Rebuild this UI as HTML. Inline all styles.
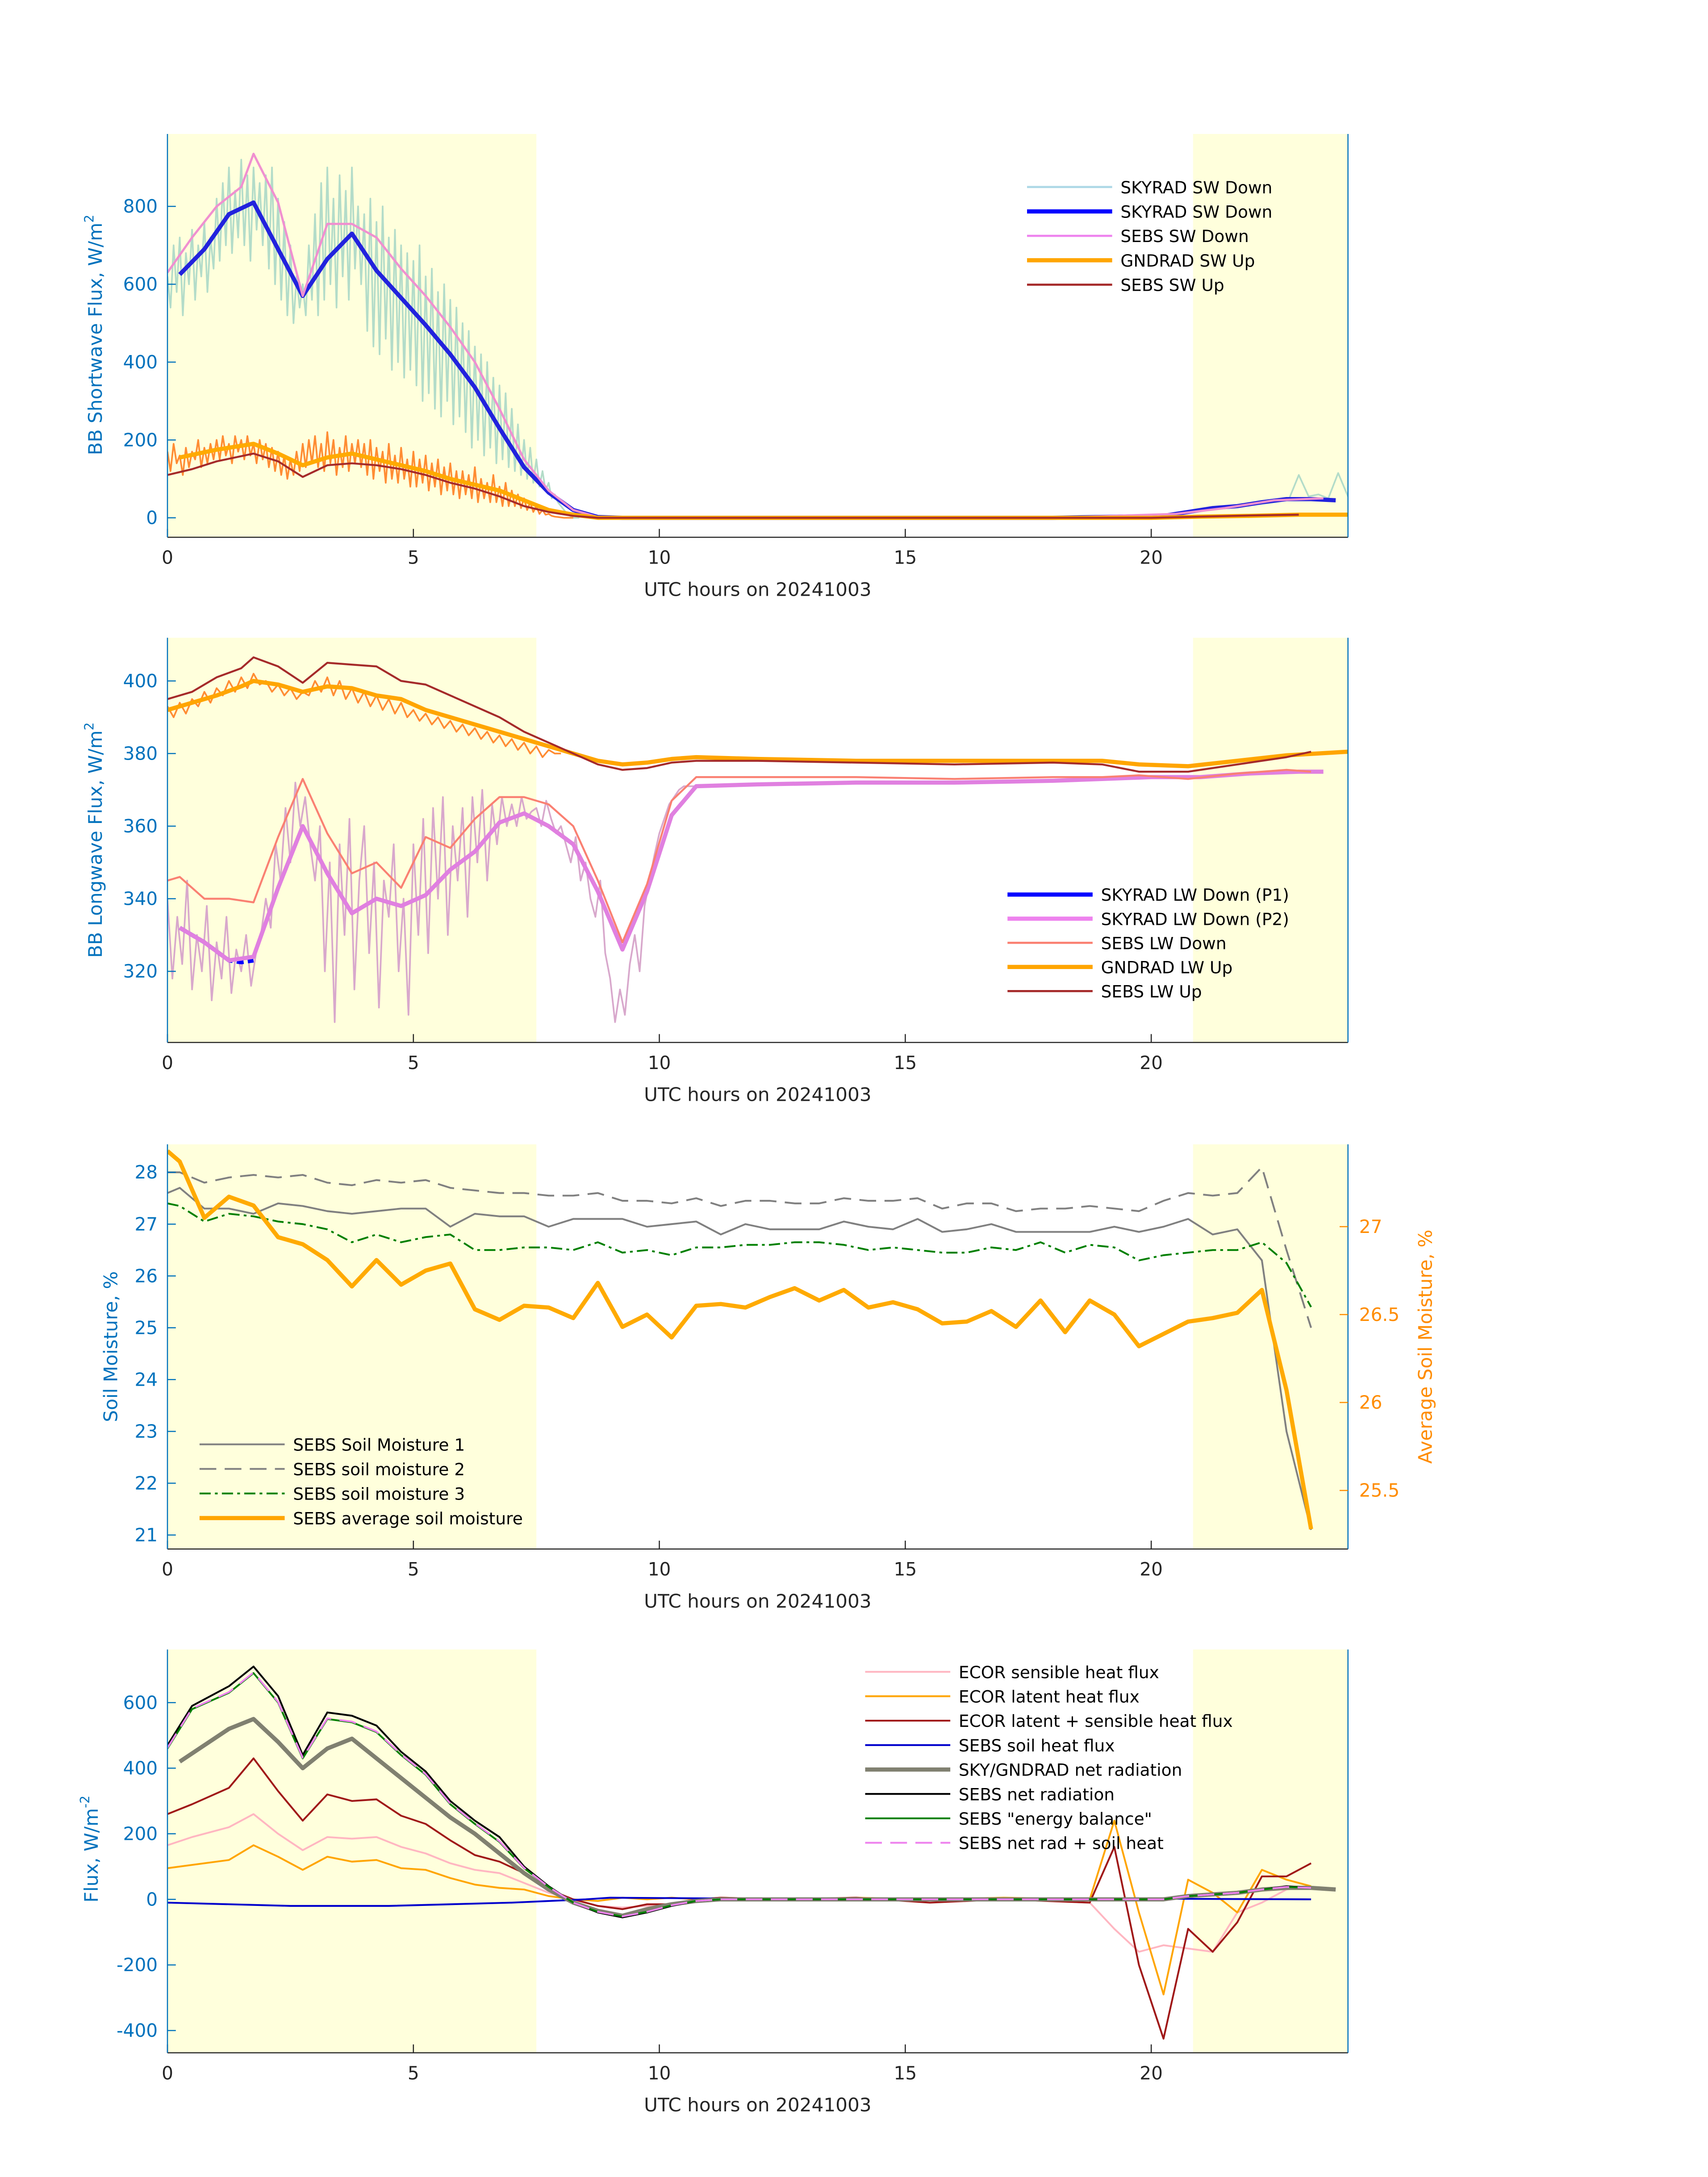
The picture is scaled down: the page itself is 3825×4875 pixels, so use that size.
<!DOCTYPE html>
<html><head><meta charset="utf-8">
<style>
html,body{margin:0;padding:0;background:#fff;}
svg{display:block;font-family:"DejaVu Sans","Liberation Sans",sans-serif;}
</style></head>
<body>
<svg id="fig" width="3825" height="4875" viewBox="0 0 1224 1560" xmlns="http://www.w3.org/2000/svg"></svg>
<script>
// ---------- DATA ----------
// Panel 1 (shortwave)
const swSkyHrs=[0.25,0.75,1.25,1.75,2.25,2.75,3.25,3.75,4.25,4.75,5.25,5.75,6.25,6.75,7.25,7.75,8.25,8.75,9.25,12,15,18,20.25,20.75,21.25,21.75,22.25,22.75,23.25,23.75];
const swSkyVals=[625,690,780,810,690,570,665,730,635,565,495,420,335,230,130,65,20,2,0,0,0,0,5,15,25,30,40,48,48,45];
const swSebsDownHrs=[0,0.5,1,1.5,1.75,2.25,2.75,3.25,3.75,4.25,4.75,5.25,5.75,6.25,6.75,7.25,7.75,8.25,8.75,9.25,12,15,18,20.5,21.5,22.5,23.5];
const swSebsDownVals=[630,720,800,850,935,810,570,755,755,720,640,570,490,400,280,150,70,20,2,0,0,0,0,10,25,45,50];
const swGndHrs=[0.25,1,1.75,2.25,2.75,3.25,3.75,4.25,4.75,5.25,5.75,6.25,6.75,7.25,7.75,8.25,8.75,12,16,20,21,22,23,24];
const swGndVals=[155,175,190,165,135,155,165,150,135,120,100,85,70,45,20,8,0,0,0,0,3,5,8,8];
const swSebsUpHrs=[0,0.5,1,1.75,2.25,2.75,3.25,3.75,4.25,4.75,5.25,5.75,6.25,6.75,7.25,7.75,8.25,8.75,12,16,20,21,22,23];
const swSebsUpVals=[110,125,145,165,145,105,135,140,135,125,110,90,75,55,30,15,5,0,0,0,0,3,6,8];
const swRawStep=0.0625;
const swRawVals=[620,540,700,580,720,520,680,600,740,560,700,620,760,580,720,640,
820,660,860,700,900,680,840,720,920,700,880,660,900,740,860,700,
880,640,900,600,820,560,760,520,700,500,620,540,600,520,700,560,
780,520,860,560,900,600,820,540,880,620,840,560,900,640,800,600,
780,480,820,440,760,420,800,460,720,380,740,400,700,360,680,380,
660,340,700,300,620,320,640,280,580,260,600,300,560,240,540,260,
500,220,480,180,440,200,420,160,400,180,360,140,340,150,320,130,
280,120,240,110,200,100,180,90,150,80,120,70,90,50,60,40,30,20,10,5,0,0,0];
const swRawLateStart=21, swRawLateStep=0.2;
const swRawLateVals=[20,22,25,28,30,32,35,38,42,48,110,55,60,50,115,55,45,70];
const swGndRawVals=[170,120,190,140,160,110,180,130,170,150,200,130,180,140,190,150,
200,150,210,160,190,140,210,170,200,150,210,160,190,140,200,150,
190,130,180,120,170,110,160,100,150,110,170,120,190,130,200,140,
210,130,190,120,220,140,200,110,180,130,210,120,190,140,200,130,
190,110,200,100,180,120,170,90,190,100,160,90,180,100,150,80,
170,80,150,90,160,70,140,80,150,60,130,70,140,60,120,50,
120,60,110,50,130,40,100,50,90,40,110,40,80,30,90,30,
70,30,60,25,50,20,40,15,30,10,20,8,10,5,3,2,1,0,0,0,0];
// Panel 2 (longwave)
const lwSebsUpHrs=[0,0.5,1,1.5,1.75,2.25,2.75,3.25,3.75,4.25,4.75,5.25,5.75,6.25,6.75,7.25,7.75,8.25,8.75,9.25,9.75,10.25,10.75,12,14,16,18,19,19.75,20.75,21.75,22.75,23.25];
const lwSebsUpVals=[395,397,401,403.5,406.5,404,399.5,405,404.5,404,400,399,396,393,390,386,383,380,377,375.5,376,377.5,378,378,377.5,377,377.5,377,375,375,377,379,380.5];
const lwGndHrs=[0,0.5,1,1.5,1.75,2.25,2.75,3.25,3.75,4.25,4.75,5.25,5.75,6.25,6.75,7.25,7.75,8.25,8.75,9.25,9.75,10.25,10.75,12,14,16,18,19,19.75,20.75,21.75,22.75,24];
const lwGndVals=[392,394,396,398.5,400,399,397,398.5,398,396,395,392,390,388,386,384,382,380,378,377,377.5,378.5,379,378.5,378,378,378,378,377,376.5,378,379.5,380.5];
const lwGndRawStep=0.125;
const lwGndRawVals=[393,390,394,391,395,393,397,394,398,396,400,397,401,398,402,399,400,397,399,396,398,395,397,396,400,397,401,396,400,395,398,394,397,393,396,392,395,391,394,390,392,389,391,388,390,387,389,386,388,385,387,384,386,383,385,382,384,381,383,380,382,379,381,380,380];
const lwSebsDownHrs=[0,0.25,0.75,1.25,1.75,2.25,2.75,3.25,3.75,4.25,4.75,5.25,5.75,6.25,6.75,7.25,7.75,8.25,8.75,9.25,9.75,10.25,10.75,12,14,16,18,19,19.75,20.75,21.75,22.75,23.25];
const lwSebsDownVals=[345,346,340,340,339,357,373,358,347,350,343,357,354,362,368,368,366,360,345,328,344,367,373.5,373.5,373.5,373,373.5,373.5,374,373,374.5,375.5,375];
const lwP2Hrs=[0.25,0.75,1.25,1.75,2.25,2.75,3.25,3.75,4.25,4.75,5.25,5.75,6.25,6.75,7.25,7.75,8.25,8.75,9.25,9.75,10.25,10.75,12,14,16,18,19,20,21,22,23,23.5];
const lwP2Vals=[332,328,323,324,343,360,347,336,340,338,341,348,353,361,363.5,360,355,342,326,342,363,371,371.5,372,372,372.5,373,373.5,373.5,374.5,375,375];
const lwP1Hrs=[0.25,0.75,1.25,1.5,1.75];
const lwP1Vals=[332,328,323,322.5,323];
const lwRawStep=0.1;
const lwRawVals=[340,318,335,322,345,315,330,320,338,312,
328,318,335,314,326,320,330,316,325,330,
340,332,355,345,365,350,372,360,368,355,
345,360,320,350,306,355,330,362,315,345,
360,325,350,310,345,335,355,320,340,308,
355,330,362,325,365,340,368,330,360,345,
365,335,368,350,370,345,366,355,368,360,
366,360,368,362,364,365,360,367,362,358,
360,355,350,357,345,350,340,335,345,325,
318,306,315,308,322,330,320,338,345,352,
358,362,366,368,370,371,371,371,371,371];
// Panel 3 (soil moisture)
const smHrs=[0,0.25,0.75,1.25,1.75,2.25,2.75,3.25,3.75,4.25,4.75,5.25,5.75,6.25,6.75,7.25,7.75,8.25,8.75,9.25,9.75,10.25,10.75,11.25,11.75,12.25,12.75,13.25,13.75,14.25,14.75,15.25,15.75,16.25,16.75,17.25,17.75,18.25,18.75,19.25,19.75,20.25,20.75,21.25,21.75,22.25,22.75,23.25];
const sm1Vals=[27.6,27.7,27.3,27.3,27.2,27.4,27.35,27.25,27.2,27.25,27.3,27.3,26.95,27.2,27.15,27.15,26.95,27.1,27.1,27.1,26.95,27.0,27.05,26.8,27.0,26.9,26.9,26.9,27.05,26.95,26.9,27.1,26.85,26.9,27.0,26.85,26.85,26.85,26.85,26.95,26.85,26.95,27.1,26.8,26.9,26.3,23.0,21.1];
const sm2Vals=[28.0,28.0,27.8,27.9,27.95,27.9,27.95,27.8,27.75,27.85,27.8,27.85,27.7,27.65,27.6,27.6,27.55,27.55,27.6,27.45,27.45,27.4,27.5,27.35,27.45,27.45,27.4,27.4,27.5,27.45,27.45,27.5,27.3,27.4,27.4,27.25,27.3,27.3,27.35,27.3,27.25,27.45,27.6,27.55,27.6,28.1,26.5,25.0];
const sm3Vals=[27.4,27.35,27.05,27.2,27.15,27.05,27.0,26.9,26.65,26.8,26.65,26.75,26.8,26.5,26.5,26.55,26.55,26.5,26.65,26.45,26.5,26.4,26.55,26.55,26.6,26.6,26.65,26.65,26.6,26.5,26.55,26.5,26.45,26.45,26.55,26.5,26.65,26.45,26.6,26.55,26.3,26.4,26.45,26.5,26.5,26.65,26.25,25.4];
const smAvgVals=[27.43,27.37,27.05,27.17,27.12,26.94,26.9,26.81,26.66,26.81,26.67,26.75,26.79,26.53,26.47,26.55,26.54,26.48,26.68,26.43,26.5,26.37,26.55,26.56,26.54,26.6,26.65,26.58,26.64,26.54,26.57,26.53,26.45,26.46,26.52,26.43,26.58,26.4,26.58,26.5,26.32,26.39,26.46,26.48,26.51,26.64,26.07,25.28];
// Panel 4 (energy fluxes)
const fxHrs=[0,0.5,1.25,1.75,2.25,2.75,3.25,3.75,4.25,4.75,5.25,5.75,6.25,6.75,7.25,7.75,8.25,8.75,9.25,9.75,10.25,10.75,11.25,12.5,14,15.5,17,18.75,19.25,19.75,20.25,20.75,21.25,21.75,22.25,22.75,23.25];
const netRadVals=[470,590,650,710,620,440,570,560,530,450,390,300,240,190,100,40,-10,-40,-55,-40,-20,-5,0,0,0,0,0,0,0,0,0,10,15,20,30,40,35];
const ebVals=[460,580,630,690,600,430,550,540,510,440,380,290,230,175,95,38,-10,-38,-52,-38,-18,-5,0,0,0,0,0,0,0,0,0,10,15,20,30,38,35];
const nrSoilVals=[462,582,632,692,602,432,552,542,512,442,382,292,232,177,96,38,-10,-38,-52,-38,-18,-5,0,0,0,0,0,0,0,0,0,10,15,20,30,38,35];
const sensVals=[165,190,220,260,200,150,190,185,190,160,140,110,90,80,50,20,0,-20,-25,-20,-15,0,0,0,0,0,0,-10,-90,-160,-140,-150,-160,-40,-10,30,40];
const latVals=[95,105,120,165,130,90,130,115,120,95,90,65,45,35,30,10,0,-5,5,0,5,0,5,0,5,0,5,0,240,-40,-290,60,20,-40,90,60,40];
const combVals=[260,290,340,430,330,240,320,300,305,255,230,180,135,115,80,30,0,-20,-30,-15,-15,0,5,0,5,-10,0,-10,160,-200,-425,-90,-160,-70,70,70,110];
const skyNetHrs=[0.25,0.75,1.25,1.75,2.25,2.75,3.25,3.75,4.25,4.75,5.25,5.75,6.25,6.75,7.25,7.75,8.25,8.75,9.25,9.75,10.25,10.75,11.25,14,17,20.25,20.75,21.25,21.75,22.25,22.75,23.25,23.75];
const skyNetVals=[420,470,520,550,480,400,460,490,430,370,310,250,200,140,80,30,-10,-35,-50,-30,-15,-5,0,0,0,0,10,15,20,30,35,35,30];
const soilHeatHrs=[0,2.5,4.5,7,8.5,9,12,16,20,23.25];
const soilHeatVals=[-10,-20,-20,-10,0,5,2,2,2,0];
const xTicks=[0,5,10,15,20];

// ---------- DRAWING ----------
const NS="http://www.w3.org/2000/svg";
const svg=document.getElementById('fig');
const X0=120,X1=966;
function xs(h){return X0+(X1-X0)*h/24;}
function mk(tag,attrs,parent){const e=document.createElementNS(NS,tag);for(const k in attrs)e.setAttribute(k,attrs[k]);(parent||svg).appendChild(e);return e;}
function txt(s,attrs,parent){const e=mk('text',attrs,parent);e.textContent=s;return e;}
function pathD(hrs,vals,ys){return hrs.map((h,i)=>(i?'L':'M')+xs(h).toFixed(2)+' '+ys(vals[i]).toFixed(2)).join(' ');}
function stepHrs(start,step,n){const a=[];for(let i=0;i<n;i++)a.push(start+i*step);return a;}

function makePanel(id,top,bot,vmin,vmax){
  const g=mk('g',{});
  
  
  const ys=v=>bot-(v-vmin)/(vmax-vmin)*(bot-top);
  const cp=mk('clipPath',{id:'clip-'+id},g);
  mk('rect',{x:X0,y:top,width:X1-X0,height:bot-top},cp);
  const s1=mk('rect',{x:X0,y:top,width:xs(7.5)-X0,height:bot-top,fill:'#ffffdc'},g);
  
  
  const s2=mk('rect',{x:xs(20.85),y:top,width:X1-xs(20.85),height:bot-top,fill:'#ffffdc'},g);
  
  
  const plot=mk('g',{'clip-path':'url(#clip-'+id+')'},g);
  
  
  const ax=mk('g',{},g);
  
  
  mk('line',{x1:X0,y1:bot,x2:X1,y2:bot,stroke:'#262626','stroke-width':0.8},ax);
  xTicks.forEach(t=>{
    mk('line',{x1:xs(t),y1:bot,x2:xs(t),y2:bot-6,stroke:'#262626','stroke-width':0.8},ax);
    const l=txt(String(t),{x:xs(t),y:bot+19,'font-size':13,fill:'#262626','text-anchor':'middle'},ax);
    
    
  });
  const xt=txt('UTC hours on 20241003',{x:543,y:bot+42,'font-size':13.5,fill:'#262626','text-anchor':'middle'},ax);
  
  
  mk('line',{x1:X0,y1:top,x2:X0,y2:bot,stroke:'#0072BD','stroke-width':0.8},g);
  mk('line',{x1:X1,y1:top,x2:X1,y2:bot,stroke:'#0072BD','stroke-width':0.8},g);
  return {g,plot,ys,top,bot};
}
function yTicks(p,ticks,fmt,color,right,ysF){
  const ys=ysF||p.ys;
  const ag=mk('g',{},p.g);
  
  
  ticks.forEach(t=>{
    const y=ys(t);
    if(right){mk('line',{x1:X1,y1:y,x2:X1-6,y2:y,stroke:color,'stroke-width':0.8},ag);
      const l=txt(fmt(t),{x:X1+8,y:y+4.5,'font-size':13,fill:color},ag);
      
      }
    else{mk('line',{x1:X0,y1:y,x2:X0+6,y2:y,stroke:color,'stroke-width':0.8},ag);
      const l=txt(fmt(t),{x:X0-7,y:y+4.5,'font-size':13,fill:color,'text-anchor':'end'},ag);
      
      }
  });
}
function yTitle(p,x,yc,content,color,name){
  const t=mk('text',{x:0,y:0,transform:`translate(${x},${yc}) rotate(-90)`,'font-size':13.5,fill:color,'text-anchor':'middle'},p.g);
  t.innerHTML=content;
  
  
}
function line(p,hrs,vals,color,w,name,dash,ysF){
  const e=mk('path',{d:pathD(hrs,vals,ysF||p.ys),fill:'none',stroke:color,'stroke-width':w,'stroke-linejoin':'round'},p.plot);
  if(dash)e.setAttribute('stroke-dasharray',dash);
  
  
  return e;
}
function legend(p,x,y0,dy,items){
  const lg=mk('g',{},p.g);
  
  
  items.forEach((it,i)=>{
    const y=y0+i*dy;
    const row=mk('g',{},lg);
    
    
    const l=mk('line',{x1:x,y1:y,x2:x+61,y2:y,stroke:it[1],'stroke-width':it[2]},row);
    if(it[3])l.setAttribute('stroke-dasharray',it[3]);
    txt(it[0],{x:x+67,y:y+4.5,'font-size':12,fill:'#000'},row);
  });
}

// Panel 1
const p1=makePanel('shortwave',96,385,-50,986);
yTicks(p1,[0,200,400,600,800],String,'#0072BD');
yTitle(p1,73,240,'BB Shortwave Flux, W/m<tspan font-size="9" dy="-6">2</tspan>','#0072BD','y-axis-title');
line(p1,stepHrs(0,swRawStep,swRawVals.length),swRawVals,'#b3dcc9',1.2,'skyrad-sw-down-raw');
line(p1,stepHrs(swRawLateStart,swRawLateStep,swRawLateVals.length),swRawLateVals,'#b3dcc9',1.2,'skyrad-sw-down-raw-late');
line(p1,stepHrs(0,swRawStep,swGndRawVals.length),swGndRawVals,'#ff8c33',1.2,'gndrad-sw-up-raw');
line(p1,swSkyHrs,swSkyVals,'#2222dd',3,'skyrad-sw-down');
line(p1,swSebsDownHrs,swSebsDownVals,'#f090d0',1.6,'sebs-sw-down');
line(p1,swGndHrs,swGndVals,'#ffaa00',3,'gndrad-sw-up');
line(p1,swSebsUpHrs,swSebsUpVals,'#a52a2a',1.4,'sebs-sw-up');
legend(p1,736,134,17.5,[['SKYRAD SW Down','#add8e6',1.5],['SKYRAD SW Down','#0000ff',3],['SEBS SW Down','#ee82ee',1.5],['GNDRAD SW Up','#ffa500',3],['SEBS SW Up','#a52a2a',1.5]]);

// Panel 2
const p2=makePanel('longwave',457,747,300.4,411.9);
yTicks(p2,[320,340,360,380,400],String,'#0072BD');
yTitle(p2,73,602,'BB Longwave Flux, W/m<tspan font-size="9" dy="-6">2</tspan>','#0072BD','y-axis-title');
line(p2,stepHrs(0,lwRawStep,lwRawVals.length),lwRawVals,'#d8a8cc',1.2,'skyrad-lw-down-raw');
line(p2,stepHrs(0,lwGndRawStep,lwGndRawVals.length),lwGndRawVals,'#ff8c33',1.2,'gndrad-lw-up-raw');
line(p2,lwP1Hrs,lwP1Vals,'#0000ff',3,'skyrad-lw-down-p1','5 3');
line(p2,lwP2Hrs,lwP2Vals,'#e080e0',3,'skyrad-lw-down-p2');
line(p2,lwSebsDownHrs,lwSebsDownVals,'#fa8072',1.4,'sebs-lw-down');
line(p2,lwGndHrs,lwGndVals,'#ffa500',3,'gndrad-lw-up');
line(p2,lwSebsUpHrs,lwSebsUpVals,'#a52a2a',1.4,'sebs-lw-up');
legend(p2,722,641,17.3,[['SKYRAD LW Down (P1)','#0000ff',3],['SKYRAD LW Down (P2)','#ee82ee',3],['SEBS LW Down','#fa8072',1.5],['GNDRAD LW Up','#ffa500',3],['SEBS LW Up','#a52a2a',1.5]]);

// Panel 3
const p3=makePanel('soil-moisture',820,1110,20.73,28.54);
const ysR=v=>1110-(v-25.167)/(27.468-25.167)*290;
yTicks(p3,[21,22,23,24,25,26,27,28],String,'#0072BD');
yTicks(p3,[25.5,26,26.5,27],String,'#ff8c00',true,ysR);
yTitle(p3,84,965,'Soil Moisture, %','#0072BD','y-axis-title');
yTitle(p3,1026,965,'Average Soil Moisture, %','#ff8c00','right-y-axis-title');
line(p3,smHrs,sm1Vals,'#808080',1.3,'sebs-soil-moisture-1');
line(p3,smHrs,sm2Vals,'#808080',1.3,'sebs-soil-moisture-2','12 6');
line(p3,smHrs,sm3Vals,'#008000',1.3,'sebs-soil-moisture-3','8 3 2 3');
line(p3,smHrs,smAvgVals,'#ffaa00',3,'sebs-average-soil-moisture',null,ysR);
legend(p3,143,1035,17.6,[['SEBS Soil Moisture 1','#808080',1.3],['SEBS soil moisture 2','#808080',1.3,'12 6'],['SEBS soil moisture 3','#008000',1.3,'8 3 2 3'],['SEBS average soil moisture','#ffa500',3]]);

// Panel 4
const p4=makePanel('energy-flux',1182,1471,-468,762);
yTicks(p4,[-400,-200,0,200,400,600],String,'#0072BD');
yTitle(p4,70,1325,'Flux, W/m<tspan font-size="9" dy="-6">-2</tspan>','#0072BD','y-axis-title');
line(p4,fxHrs,sensVals,'#ffb6c1',1.3,'ecor-sensible-heat-flux');
line(p4,fxHrs,latVals,'#ffa500',1.3,'ecor-latent-heat-flux');
line(p4,fxHrs,combVals,'#a01818',1.3,'ecor-latent-plus-sensible');
line(p4,soilHeatHrs,soilHeatVals,'#0000cc',1.3,'sebs-soil-heat-flux');
line(p4,skyNetHrs,skyNetVals,'#808070',3,'sky-gndrad-net-radiation');
line(p4,fxHrs,netRadVals,'#000000',1.3,'sebs-net-radiation');
line(p4,fxHrs,ebVals,'#008000',1.3,'sebs-energy-balance');
line(p4,fxHrs,nrSoilVals,'#ee82ee',1.3,'sebs-net-rad-plus-soil-heat','12 6');
legend(p4,620,1198,17.5,[['ECOR sensible heat flux','#ffb6c1',1.3],['ECOR latent heat flux','#ffa500',1.3],['ECOR latent + sensible heat flux','#a01818',1.3],['SEBS soil heat flux','#0000cc',1.3],['SKY/GNDRAD net radiation','#808070',3],['SEBS net radiation','#000000',1.3],['SEBS "energy balance"','#008000',1.3],['SEBS net rad + soil heat','#ee82ee',1.3,'12 6']]);
</script>
</body></html>
